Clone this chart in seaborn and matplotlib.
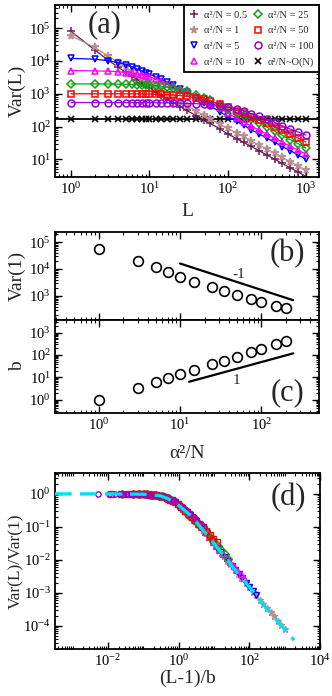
import matplotlib
matplotlib.use("Agg")
import matplotlib.pyplot as plt
import seaborn as sns
from matplotlib.lines import Line2D
from matplotlib.ticker import LogLocator, NullFormatter, LogFormatterSciNotation

# ---- panel (a): Var(L) vs L ----
L = [1, 2, 3, 4, 5, 6, 7, 8, 9, 10, 12, 14, 17, 20, 25, 30, 40, 50, 60, 80,
     100, 130, 160, 200, 250, 320, 400, 500, 630, 800, 1000]

var_05 = [8.0e4, 2.2e4, 1.05e4, 6.5e3, 4.5e3, 3.4e3, 2.7e3, 2.2e3, 1.85e3, 1.55e3,
          1.15e3, 900, 680, 540, 400, 310, 215, 160, 125, 84,
          60, 43, 33, 25, 18.5, 13.5, 10, 7.5, 5.5, 4.1, 3.0]
var_1 = [5.9e4, 2.6e4, 1.41e4, 8.9e3, 6.5e3, 4.9e3, 3.8e3, 3.0e3, 2.5e3, 2.14e3,
         1.62e3, 1.29e3, 955, 775, 560, 435, 295, 220, 173, 117,
         89, 64, 50, 37, 28, 20.5, 15.5, 11.5, 8.5, 6.3, 4.7]
var_5 = [1.2e4, 1.14e4, 1.02e4, 8.9e3, 7.8e3, 6.7e3, 5.7e3, 4.95e3, 4.36e3, 3.98e3,
         3.3e3, 2.8e3, 2.24e3, 1.82e3, 1.41e3, 1.12e3, 760, 540, 425, 282,
         204, 145, 110, 81, 60, 44, 33, 24.5, 18.6, 13.5, 10.2]
var_10 = [5.1e3, 5.0e3, 4.9e3, 4.7e3, 4.45e3, 4.2e3, 4.0e3, 3.7e3, 3.47e3, 3.27e3,
          2.85e3, 2.45e3, 2.04e3, 1.74e3, 1.41e3, 1.17e3, 850, 645, 525, 363,
          257, 182, 137, 105, 78, 58, 44, 33.5, 25, 19, 14.5]
var_25 = [2.0e3, 2.0e3, 1.99e3, 1.97e3, 1.95e3, 1.92e3, 1.9e3, 1.87e3, 1.85e3, 1.82e3,
          1.76e3, 1.69e3, 1.59e3, 1.48e3, 1.32e3, 1.19e3, 915, 743, 630, 440,
          350, 265, 215, 168, 128, 95, 72, 54, 40, 30, 22]
var_50 = [1000, 1000, 1000, 999, 998, 996, 993, 990, 985, 980,
          970, 958, 940, 915, 875, 835, 750, 676, 603, 479,
          389, 309, 251, 200, 160, 125, 98, 77, 58, 44, 34]
var_100 = [540, 540, 540, 540, 540, 540, 539, 538, 537, 536,
           533, 530, 527, 522, 517, 512, 498, 483, 468, 429,
           392, 345, 297, 250, 205, 165, 135, 105, 84, 68, 55]
var_ON = [170, 170, 170, 170, 170, 170, 170, 170, 170, 170,
          170, 170, 170, 170, 170, 170, 170, 170, 170, 170,
          170, 170, 170, 170, 170, 170, 170, 170, 170, 170, 170]
level_ON = 170

# ---- panels (b), (c) ----
alpha_bc = [1, 3, 5, 7, 10, 15, 25, 35, 50, 75, 100, 150, 200]
var1_b = [5.6e4, 2.0e4, 1.15e4, 7.9e3, 5.1e3, 3.4e3, 2.1e3, 1.6e3, 1.07e3, 760, 600, 435, 365]
b_c = [1.0, 3.4, 6.3, 8.9, 13.9, 22, 39, 55, 83, 140, 185, 300, 410]
guide_b_x, guide_b_y = [10, 245], [1.6e4, 700]
guide_c_x, guide_c_y = [12.9, 245], [6.3, 118]

# ---- panel (d): scaling function ----
fit_x = [3.2e-4, 1e-2, 0.1, 0.3, 0.5, 1, 2, 3, 10, 30, 100, 300, 1000, 1860]
fit_y = [1.0, 1.0, 0.98, 0.88, 0.72, 0.45, 0.24, 0.15, 0.032, 0.0072, 1.5e-3, 3.5e-4, 7.9e-5, 3.7e-5]

# major tick values per panel
ticks_a_x = [1, 10, 100, 1000]
ticks_a_y = [10, 100, 1e3, 1e4, 1e5]
ticks_bc_x = [1, 10, 100]
ticks_b_y = [1e3, 1e4, 1e5]
ticks_c_y = [1, 10, 100, 1e3]
ticks_d_x = [1e-2, 1, 1e2, 1e4]
ticks_d_y = [1e-4, 1e-3, 1e-2, 1e-1, 1]

# label, values, alpha^2/N, marker, colour, face
series = [
    ("0.5", var_05, 0.5, "+", "#6b1a55", "#6b1a55"),
    ("1", var_1, 1, "*", "#bc8f8f", "#bc8f8f"),
    ("5", var_5, 5, "v", "#0000ff", "none"),
    ("10", var_10, 10, "^", "#ff00ff", "none"),
    ("25", var_25, 25, "D", "#10a010", "none"),
    ("50", var_50, 50, "s", "#ff0000", "none"),
    ("100", var_100, 100, "o", "#9400d3", "none"),
]
msize = {"+": 6, "*": 5.5, "v": 5, "^": 5, "D": 4.5, "s": 4.8, "o": 5}

sns.set_style("ticks", {"xtick.direction": "in", "ytick.direction": "in"})
plt.rcParams["font.family"] = ["Liberation Serif", "DejaVu Serif"]
plt.rcParams["mathtext.fontset"] = "custom"
plt.rcParams["mathtext.rm"] = "Liberation Serif"
plt.rcParams["mathtext.it"] = "Liberation Serif:italic"
plt.rcParams["axes.unicode_minus"] = False
plt.rcParams["lines.linestyle"] = "-"

fig = plt.figure(figsize=(3.32, 6.96), dpi=100)
ax_a = fig.add_axes([0.1657, 0.7457, 0.7952, 0.2471])
ax_b = fig.add_axes([0.1657, 0.5402, 0.7952, 0.1264])
ax_c = fig.add_axes([0.1657, 0.4066, 0.7952, 0.1336])
ax_d = fig.add_axes([0.1657, 0.0675, 0.7982, 0.2529])


def style(ax, xlim, ylim, xt, yt):
    ax.set_xscale("log")
    ax.set_yscale("log")
    ax.set_xlim(*xlim)
    ax.set_ylim(*ylim)
    ax.set_xticks(xt)
    ax.set_yticks(yt)
    ax.xaxis.set_minor_locator(LogLocator(base=10, subs=range(1, 10), numticks=40))
    ax.yaxis.set_minor_locator(LogLocator(base=10, subs=range(1, 10), numticks=40))
    ax.xaxis.set_major_formatter(LogFormatterSciNotation(base=10))
    ax.yaxis.set_major_formatter(LogFormatterSciNotation(base=10))
    ax.xaxis.set_minor_formatter(NullFormatter())
    ax.yaxis.set_minor_formatter(NullFormatter())
    ax.tick_params(which="both", direction="in", top=True, right=True, colors="black",
                   labelsize=10.5, pad=3)
    ax.tick_params(which="major", length=5, width=1)
    ax.tick_params(which="minor", length=2.5, width=0.8)
    for s in ax.spines.values():
        s.set_linewidth(1.3)
        s.set_color("black")


# (a)
style(ax_a, (0.625, 1470), (2.9, 5.1e5), ticks_a_x, ticks_a_y)
ax_a.plot([0.625, 1470], [level_ON, level_ON], color="black", linestyle="-", lw=1.3, zorder=1)
ax_a.plot(L, var_ON, color="black", marker="x", markersize=4, markeredgewidth=1.2,
          linestyle="none", zorder=2)
handles = []
for lab, vals, a2, mk, col, fc in series:
    sns.lineplot(x=L, y=vals, ax=ax_a, color=col, lw=0.9, marker=mk,
                 markersize=msize[mk], markerfacecolor=fc, markeredgecolor=col,
                 markeredgewidth=1.1, estimator=None, sort=False)
    handles.append(Line2D([], [], linestyle="none", marker=mk, color=col,
                          markerfacecolor=fc, markeredgecolor=col, markeredgewidth=1.1,
                          markersize=msize[mk], label="α²/N = " + lab))
handles.append(Line2D([], [], linestyle="none", marker="x", color="black",
                      markersize=4, markeredgewidth=1.2, label="α²/N~O(N)"))
ax_a.set_xlabel("L", fontsize=14)
ax_a.set_ylabel("Var(L)", fontsize=14)
ax_a.xaxis.set_label_coords(0.5, -0.15)
ax_a.yaxis.set_label_coords(-0.11, 0.5)
ax_a.text(0.186, 0.884, "(a)", transform=ax_a.transAxes, fontsize=22,
          ha="center", va="center")
leg = ax_a.legend(handles=handles, ncol=2, loc="upper right", borderaxespad=0,
                  fontsize=7.5, handlelength=1.0, handletextpad=0.4, columnspacing=0.6,
                  labelspacing=0.62, borderpad=0.5, frameon=True, fancybox=False,
                  framealpha=1, edgecolor="black")
leg.get_frame().set_linewidth(1.3)

# (b)
style(ax_b, (0.29, 510), (129, 2.35e5), ticks_bc_x, ticks_b_y)
sns.lineplot(x=alpha_bc, y=var1_b, ax=ax_b, linestyle="none", marker="o", markersize=7,
             markerfacecolor="none", markeredgecolor="black", markeredgewidth=1.2,
             estimator=None, sort=False)
ax_b.plot(guide_b_x, guide_b_y, color="black", linestyle="-", lw=1.6)
ax_b.text(52, 6.5e3, "-1", fontsize=11, ha="center", va="center")
ax_b.tick_params(labelbottom=False)
ax_b.set_ylabel("Var(1)", fontsize=14)
ax_b.yaxis.set_label_coords(-0.11, 0.5)
ax_b.text(0.879, 0.76, "(b)", transform=ax_b.transAxes, fontsize=22,
          ha="center", va="center")

# (c)
style(ax_c, (0.29, 510), (0.25, 3.7e3), ticks_bc_x, ticks_c_y)
sns.lineplot(x=alpha_bc, y=b_c, ax=ax_c, linestyle="none", marker="o", markersize=7,
             markerfacecolor="none", markeredgecolor="black", markeredgewidth=1.2,
             estimator=None, sort=False)
ax_c.plot(guide_c_x, guide_c_y, color="black", linestyle="-", lw=1.6)
ax_c.text(50, 7.5, "1", fontsize=11, ha="center", va="center")
ax_c.set_xlabel("α²/N", fontsize=14)
ax_c.set_ylabel("b", fontsize=14)
ax_c.xaxis.set_label_coords(0.5, -0.34)
ax_c.yaxis.set_label_coords(-0.11, 0.5)
ax_c.text(0.879, 0.215, "(c)", transform=ax_c.transAxes, fontsize=22,
          ha="center", va="center")

# (d) data collapse: x = (L-1)/b, y = Var(L)/Var(1)
style(ax_d, (3.2e-4, 1e4), (2e-5, 4.3), ticks_d_x, ticks_d_y)
for lab, vals, a2, mk, col, fc in series[1:]:
    bb = b_c[alpha_bc.index(a2)]
    xs = [(l - 1) / bb for l in L[1:]]
    ys = [v / vals[0] for v in vals[1:]]
    sns.lineplot(x=xs, y=ys, ax=ax_d, linestyle="none", marker=mk, color=col,
                 markersize=4.5 if mk == "*" else 3.8, markerfacecolor=fc,
                 markeredgecolor=col, markeredgewidth=1.0, estimator=None, sort=False)
ax_d.plot(fit_x, fit_y, color="#00e0f0", linestyle="--", lw=2.4, dashes=(5, 2.5), zorder=5)
ax_d.set_xlim(3.2e-4, 1e4)
ax_d.set_ylim(2e-5, 4.3)
ax_d.set_xlabel("(L-1)/b", fontsize=14)
ax_d.set_ylabel("Var(L)/Var(1)", fontsize=12.5)
ax_d.xaxis.set_label_coords(0.5, -0.12)
ax_d.yaxis.set_label_coords(-0.118, 0.5)
ax_d.text(0.879, 0.858, "(d)", transform=ax_d.transAxes, fontsize=22,
          ha="center", va="center")

fig.savefig("out.png", dpi=100)
